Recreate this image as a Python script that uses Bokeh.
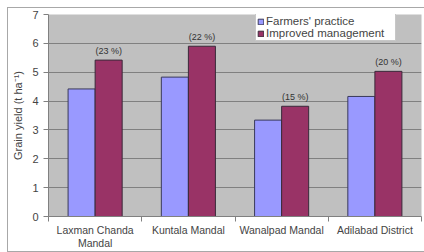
from bokeh.plotting import figure
from bokeh.models import ColumnDataSource, FixedTicker, Range1d, Legend, LegendItem
from bokeh.transform import dodge
from bokeh.core.properties import value
from bokeh.embed import file_html
from bokeh.resources import INLINE

categories = ["Laxman Chanda\nMandal", "Kuntala Mandal", "Wanalpad Mandal", "Adilabad District"]
farmers = [4.42, 4.83, 3.34, 4.16]
improved = [5.42, 5.90, 3.82, 5.03]
increase = ["(23 %)", "(22 %)", "(15 %)", "(20 %)"]
y_ticks = [0, 1, 2, 3, 4, 5, 6, 7]
series_names = ["Farmers' practice", "Improved management"]

n = len(categories)
centers = [i + 0.5 for i in range(n)]
bounds = [i for i in range(n + 1)]

src = ColumnDataSource(dict(x=centers, fp=farmers, im=improved, lab=increase))

FONT = "Liberation Sans"

p = figure(width=417, height=243, output_backend="svg", toolbar_location=None,
           x_range=Range1d(0, n), y_range=Range1d(0, 7),
           min_border_left=40, min_border_right=4, min_border_top=6, min_border_bottom=33)
p.styles = {"margin-left": "8px", "margin-top": "8px", "outline": "1px solid #a8a8a8"}
p.background_fill_color = "#c0c0c0"
p.border_fill_color = "white"
p.outline_line_color = None

w = 0.29
r1 = p.vbar(x=dodge("x", -w / 2, range=p.x_range), top="fp", width=w, source=src,
            fill_color="#9999ff", line_color="#3a3a5a", line_width=1)
r2 = p.vbar(x=dodge("x", w / 2, range=p.x_range), top="im", width=w, source=src,
            fill_color="#993366", line_color="#3a2a3a", line_width=1)

p.text(x=dodge("x", w / 2, range=p.x_range), y="im", text="lab", source=src,
       text_font=value(FONT), text_font_size="9px", text_color="#333333",
       text_align="center", text_baseline="bottom", y_offset=-4)

# axes
p.xgrid.visible = False
p.ygrid.grid_line_color = "#808080"
p.ygrid.grid_line_width = 1
p.ygrid.ticker = FixedTicker(ticks=y_ticks)

p.yaxis.ticker = FixedTicker(ticks=y_ticks)
p.yaxis.axis_label = "Grain yield (t ha\u207b\u00b9)"
p.yaxis.axis_label_text_font = FONT
p.yaxis.axis_label_text_font_style = "normal"
p.yaxis.axis_label_text_font_size = "11px"
p.yaxis.axis_label_standoff = 5
p.yaxis.major_label_text_font = FONT
p.yaxis.major_label_text_font_size = "11px"
p.yaxis.major_label_standoff = 5
p.yaxis.major_tick_in = 0
p.yaxis.major_tick_out = 5
p.yaxis.minor_tick_line_color = None
p.yaxis.axis_line_color = "#808080"
p.yaxis.major_tick_line_color = "#808080"

p.xaxis.ticker = FixedTicker(ticks=centers, minor_ticks=bounds)
p.xaxis.major_label_overrides = {c: name for c, name in zip(centers, categories)}
p.xaxis.major_label_text_font = FONT
p.xaxis.major_label_text_font_size = "10.5px"
p.xaxis.major_label_text_line_height = 1.1
p.xaxis.major_label_standoff = 2
p.xaxis.major_tick_in = 0
p.xaxis.major_tick_out = 0
p.xaxis.minor_tick_in = 0
p.xaxis.minor_tick_out = 5
p.xaxis.minor_tick_line_color = "#808080"
p.xaxis.axis_line_color = "#808080"

legend = Legend(items=[LegendItem(label=series_names[0], renderers=[r1]),
                       LegendItem(label=series_names[1], renderers=[r2])],
                location=(207, 175), orientation="vertical")
legend.label_text_font = FONT
legend.label_text_font_size = "11.5px"
legend.label_text_line_height = 1.0
legend.label_height = 12
legend.label_width = 128
legend.glyph_height = 7
legend.glyph_width = 7
legend.label_standoff = 2
legend.padding = 1
legend.spacing = 0
legend.margin = 0
legend.border_line_color = "#909090"
legend.background_fill_color = "white"
legend.background_fill_alpha = 1
p.add_layout(legend)

open("out.html", "w").write(file_html(p, INLINE))
